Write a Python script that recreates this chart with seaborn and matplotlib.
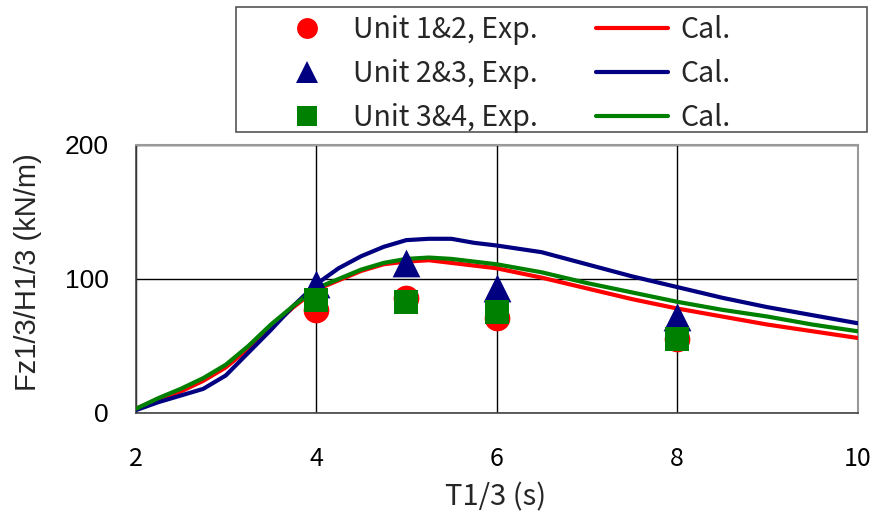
import matplotlib
matplotlib.use("Agg")
import matplotlib.pyplot as plt
from matplotlib.lines import Line2D
from matplotlib.patches import Rectangle
import seaborn as sns
import pandas as pd

# Calculated curves (period grid shared by all three)
period = [2.0, 2.25, 2.5, 2.75, 3.0, 3.25, 3.5, 3.75, 4.0, 4.25, 4.5, 4.75,
          5.0, 5.25, 5.5, 5.75, 6.0, 6.5, 7.0, 7.5, 8.0, 8.5, 9.0, 9.5, 10.0]
cal_12 = [3, 10, 16, 24, 34, 48, 64, 79, 92, 99, 106, 111,
          113, 114, 112, 110, 108, 101, 93, 85, 78, 72, 66, 61, 56]
cal_23 = [2, 8, 13, 18, 28, 45, 62, 80, 96, 108, 117, 124,
          129, 130, 130, 127, 125, 120, 111, 102, 94, 86, 79, 73, 67]
cal_34 = [3, 11, 18, 26, 36, 50, 66, 80, 93, 100, 107, 112,
          115, 116, 115, 113, 111, 105, 97, 90, 83, 77, 72, 66, 61]

# Experimental points
exp_period = [4, 5, 6, 8]
exp_12 = [77, 86, 71, 55]
exp_23 = [96, 112, 93, 72]
exp_34 = [84, 83, 75, 55]

series_labels = ["Unit 1&2, Exp.", "Unit 2&3, Exp.", "Unit 3&4, Exp."]
cal_label = "Cal."
x_ticks = [2, 4, 6, 8, 10]
y_ticks = [0, 100, 200]
x_title = "T1/3 (s)"
y_title = "Fz1/3/H1/3 (kN/m)"

colors = ["#FF0000", "#000080", "#008000"]
markers = ["o", "^", "s"]
msizes = [18.5, 20, 17.5]

sns.set_theme(style="white")
plt.rcParams["font.family"] = ["Noto Sans CJK JP", "DejaVu Sans"]

fig = plt.figure(figsize=(8.75, 5.12), dpi=100)
ax = fig.add_axes([0.1549, 0.1934, 0.8251, 0.5234])

cal = pd.DataFrame({"T": period * 3,
                    "F": cal_12 + cal_23 + cal_34,
                    "unit": ["12"] * len(period) + ["23"] * len(period) + ["34"] * len(period)})
for i, u in enumerate(["12", "23", "34"]):
    sns.lineplot(data=cal[cal["unit"] == u], x="T", y="F", color=colors[i],
                 linewidth=3, ax=ax, zorder=3, legend=False)

for i, ys in enumerate([exp_12, exp_23, exp_34]):
    sns.scatterplot(x=exp_period, y=ys, color=colors[i], marker=markers[i],
                    s=msizes[i] ** 2, linewidth=0, ax=ax, zorder=4 + i, legend=False)

ax.set_xlim(2, 10)
ax.set_ylim(0, 200)
ax.set_xticks(x_ticks)
ax.set_yticks(y_ticks)
ax.set_xticklabels([str(t) for t in x_ticks], fontsize=18)
ax.set_yticklabels([str(t) for t in y_ticks], fontsize=19, family="Liberation Sans")
ax.tick_params(axis="x", direction="in", length=5, pad=24, colors="#000000")
ax.tick_params(axis="y", direction="in", length=5, pad=19.5, colors="#000000")
ax.set_xlabel("")
ax.set_ylabel("")
ax.grid(True, color="#000000", linewidth=1.0)
for side in ["top", "right"]:
    ax.spines[side].set_color("#999999")
    ax.spines[side].set_linewidth(1.5)
for side in ["left", "bottom"]:
    ax.spines[side].set_color("#444444")
    ax.spines[side].set_linewidth(1.2)

fig.text(496 / 875, 1 - 497 / 512, x_title, ha="center", va="center", fontsize=21)
fig.text(28 / 875, 1 - 272 / 512, y_title, ha="center", va="center", rotation=90,
         fontsize=21, family="Liberation Sans")

# Legend: markers column and lines column inside one frame
fig.patches.append(Rectangle((236 / 875, 1 - 132 / 512), 631 / 875, 125 / 512,
                             transform=fig.transFigure, fill=False,
                             edgecolor="#555555", linewidth=1.2))
mk_handles = [Line2D([], [], linestyle="none", marker=markers[i], color=colors[i],
                     markersize=[15, 16, 14][i], markeredgewidth=0) for i in range(3)]
ln_handles = [Line2D([], [], color=colors[i], linewidth=3) for i in range(3)]
leg1 = fig.legend(mk_handles, series_labels, loc="upper left",
                  bbox_to_anchor=(293 / 875, 1 - 15 / 512), frameon=False,
                  fontsize=20.5, handlelength=1.0, handletextpad=1.09,
                  labelspacing=0.49, borderpad=0, borderaxespad=0)
leg2 = fig.legend(ln_handles, [cal_label] * 3, loc="upper left",
                  bbox_to_anchor=(596 / 875, 1 - 15 / 512), frameon=False,
                  fontsize=20.5, handlelength=2.53, handletextpad=0.42,
                  labelspacing=0.49, borderpad=0, borderaxespad=0)

fig.savefig("out.png", dpi=100)
